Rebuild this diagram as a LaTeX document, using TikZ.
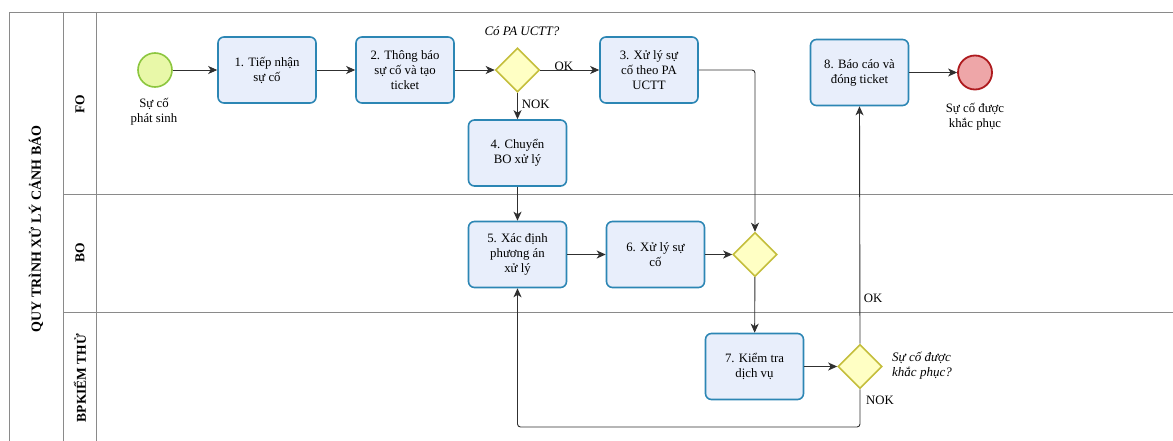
\documentclass[tikz,border=0pt]{standalone}
\usepackage{fontspec}
\setmainfont{Liberation Serif}
\usetikzlibrary{shapes.geometric,arrows.meta}
\definecolor{taskfill}{HTML}{E8EEFB}
\definecolor{taskline}{HTML}{2C86B4}
\definecolor{startfill}{HTML}{E8F8A8}
\definecolor{startline}{HTML}{8CC63F}
\definecolor{endfill}{HTML}{EEA6A8}
\definecolor{endline}{HTML}{AE1A1E}
\definecolor{gwfill}{HTML}{FFFFC4}
\definecolor{gwline}{HTML}{C4BE3C}
\definecolor{lanegray}{HTML}{8A8A8A}
\definecolor{flowgray}{HTML}{303030}
\tikzset{
  task/.style={rectangle, rounded corners=6pt, draw=taskline, line width=1.6pt,
    fill=taskfill, minimum width=98pt, minimum height=66pt, align=center,
    font=\fontsize{12.8}{15}\selectfont, inner sep=2pt},
  gw/.style={diamond, draw=gwline, line width=1.6pt, fill=gwfill,
    minimum width=44pt, minimum height=44pt, inner sep=0pt},
  startev/.style={circle, draw=startline, line width=1.6pt, fill=startfill,
    minimum size=34pt, inner sep=0pt},
  endev/.style={circle, draw=endline, line width=1.8pt, fill=endfill,
    minimum size=34pt, inner sep=0pt},
  lbl/.style={align=center, font=\fontsize{12.8}{15}\selectfont, inner sep=0pt},
  qlbl/.style={align=left, font=\itshape\fontsize{13}{15}\selectfont, inner sep=0pt},
  lanename/.style={rotate=90, font=\bfseries\fontsize{13.5}{15}\selectfont, inner sep=0pt},
  flow/.style={draw=flowgray, line width=0.9pt, -{Stealth[length=9pt,width=8pt,inset=2.5pt]}},
  lane/.style={draw=lanegray, line width=0.9pt}
}
\begin{document}
\begin{tikzpicture}[x=1pt,y=-1pt]
\useasboundingbox (0,0) rectangle (1173,441);
% pool and lanes
\draw[lane] (9,441) -- (9,12) -- (1173,12);
\draw[lane] (63,12) -- (63,441);
\draw[lane] (96,12) -- (96,441);
\draw[lane] (63,194) -- (1173,194);
\draw[lane] (63,312) -- (1173,312);
\node[lanename, font=\bfseries\fontsize{14}{15}\selectfont] (pool) at (36,229) {QUY TRÌNH XỬ LÝ CẢNH BÁO};
\node[lanename] (lfo) at (80,104) {FO};
\node[lanename] (lbo) at (80,253) {BO};
\node[lanename] (lbp) at (80,378) {BPKIỂM THỬ};

% FO lane
\node[startev] (start) at (155,70) {};
\node[lbl] (startlbl) at (154,112) {Sự cố\\phát sinh};
\node[task] (t1) at (267,70) {1. Tiếp nhận\\sự cố};
\node[task] (t2) at (405,70) {2. Thông báo\\sự cố và tạo\\ticket};
\node[gw] (g1) at (517.5,70) {};
\node[qlbl] (g1q) at (522,31) {Có PA UCTT?};
\node[task] (t3) at (649,70) {3. Xử lý sự\\cố theo PA\\UCTT};
\node[task] (t4) at (517.5,153) {4. Chuyển\\BO xử lý};
\node[task] (t8) at (859.5,72.5) {8. Báo cáo và\\đóng ticket};
\node[endev] (end) at (975,72.5) {};
\node[lbl] (endlbl) at (975,117) {Sự cố được\\khắc phục};

% BO lane
\node[task] (t5) at (517.5,254.5) {5. Xác định\\phương án\\xử lý};
\node[task] (t6) at (655.5,254.5) {6. Xử lý sự\\cố};
\node[gw] (g2) at (755,254.5) {};

% BP KIEM THU lane
\node[task] (t7) at (754.5,366.5) {7. Kiểm tra\\dịch vụ};
\node[gw] (g3) at (860,366.5) {};
\node[qlbl, anchor=west] (g3q) at (892,366) {Sự cố được\\khắc phục?};

% sequence flows
\draw[flow] (start) -- (t1);
\draw[flow] (t1) -- (t2);
\draw[flow] (t2) -- (g1);
\draw[flow] (g1) -- node[lbl, above, yshift=-1pt, pos=0.4] (okA) {OK} (t3);
\draw[flow] (g1) -- node[lbl, right, xshift=4pt, pos=0.45] (nokA) {NOK} (t4);
\draw[flow] (t4) -- (t5);
\draw[flow, rounded corners=3pt] (t3.east) -| (g2.north);
\draw[flow] (t5) -- (t6);
\draw[flow] (t6) -- (g2);
\draw[flow] (g2) -- (t7);
\draw[flow] (t7) -- (g3);
\draw[flow] (g3.north) -- (t8.south);
\node[lbl] (okB) at (873,298) {OK};
\coordinate (loop) at (860,427);
\draw[flow, rounded corners=3pt] (g3.south) -- (loop) -| (t5.south);
\node[lbl] (nokB) at (880,400) {NOK};
\draw[flow] (t8) -- (end);
\end{tikzpicture}
\end{document}
